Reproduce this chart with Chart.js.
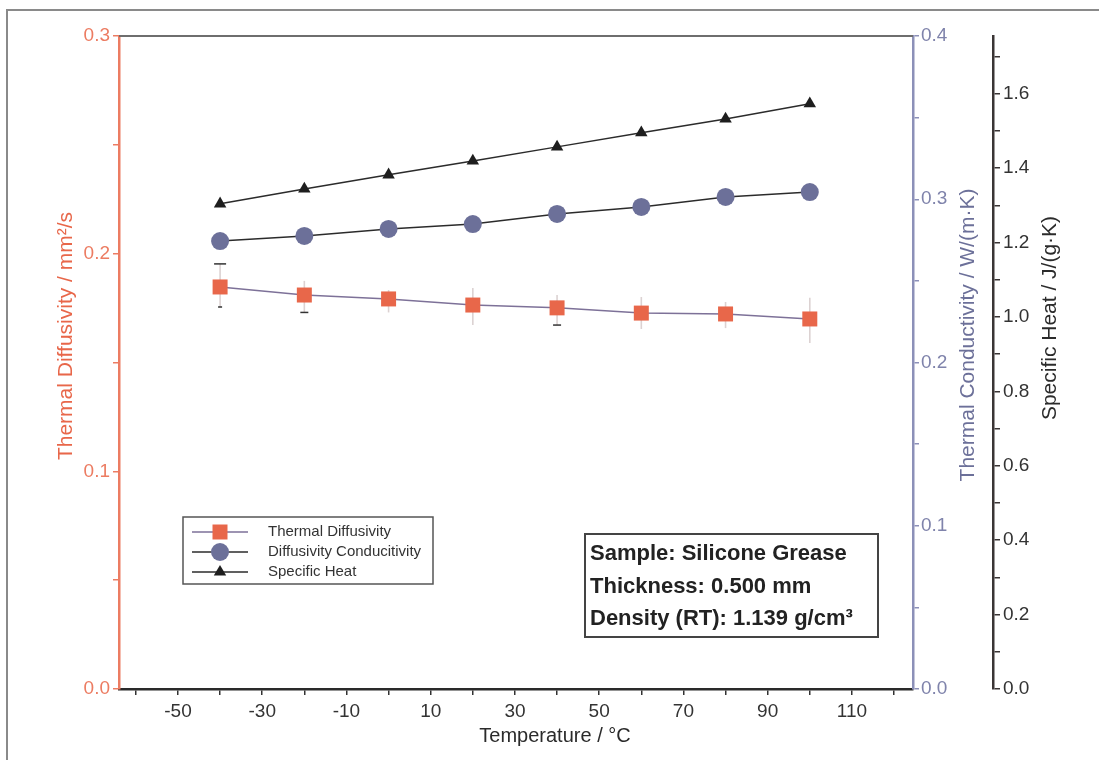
<!DOCTYPE html>
<html>
<head>
<meta charset="utf-8">
<title>Silicone Grease - thermal properties</title>
<script src="https://cdn.jsdelivr.net/npm/chart.js@4"></script>
<style>
  body { margin: 0; background: #fff; }
  canvas { display: block; }
</style>
</head>
<body>
<canvas id="chart" width="1099" height="760"></canvas>
<script>
// data
const temps = [-40, -20, 0, 20, 40, 60, 80, 100];
const diffusivity = [0.1847, 0.1810, 0.1792, 0.1764, 0.1751, 0.1727, 0.1723, 0.1700];
const diffUpper = [0.1953, 0.1875, 0.1833, 0.1842, 0.1810, 0.1801, 0.1778, 0.1797];
const diffLower = [0.1755, 0.1730, 0.1730, 0.1672, 0.1672, 0.1654, 0.1658, 0.1590];
const conductivity = [0.2744, 0.2775, 0.2818, 0.2848, 0.2910, 0.2953, 0.3014, 0.3044];
const specificHeat = [1.304, 1.344, 1.382, 1.419, 1.457, 1.495, 1.532, 1.573];

const seriesNames = ['Thermal Diffusivity', 'Diffusivity Conducitivity', 'Specific Heat'];

// tick marks and the labelled ones
const xTicks = [-60, -50, -40, -30, -20, -10, 0, 10, 20, 30, 40, 50, 60, 70, 80, 90, 100, 110, 120];
const xLabels = ['-50', '-30', '-10', '10', '30', '50', '70', '90', '110'];
const diffTicks = [0, 0.05, 0.1, 0.15, 0.2, 0.25, 0.3];
const diffLabels = ['0.0', '0.1', '0.2', '0.3'];
const condTicks = [0, 0.05, 0.1, 0.15, 0.2, 0.25, 0.3, 0.35, 0.4];
const condLabels = ['0.0', '0.1', '0.2', '0.3', '0.4'];
const cpTicks = [0, 0.1, 0.2, 0.3, 0.4, 0.5, 0.6, 0.7, 0.8, 0.9, 1.0, 1.1, 1.2, 1.3, 1.4, 1.5, 1.6, 1.7];
const cpLabels = ['0.0', '0.2', '0.4', '0.6', '0.8', '1.0', '1.2', '1.4', '1.6'];

const infoLines = ['Sample: Silicone Grease', 'Thickness: 0.500 mm', 'Density (RT): 1.139 g/cm³'];

const ORANGE = '#e8674a';
const ORANGE_AXIS = '#ec7c62';
const BLUE = '#6c7099';
const BLUE_AXIS = '#8c90b8';
const DARK = '#2b2b2b';
const FONT = 'Arial, "Liberation Sans", sans-serif';

function toPoints(ys) {
  return temps.map((t, i) => ({ x: t, y: ys[i] }));
}

function setTicks(values) {
  return scale => { scale.ticks = values.map(v => ({ value: v })); };
}

// only print a label where the tick value matches one of the labels
function labelFrom(labels) {
  return v => {
    const hit = labels.find(l => Math.abs(Number(l) - v) < 1e-9);
    return hit === undefined ? '' : hit;
  };
}

function drawMarker(ctx, style, x, y, color) {
  ctx.save();
  ctx.fillStyle = color;
  ctx.beginPath();
  if (style === 'rect') {
    ctx.rect(x - 7.5, y - 7.5, 15, 15);
  } else if (style === 'circle') {
    ctx.arc(x, y, 9, 0, Math.PI * 2);
  } else {
    ctx.moveTo(x, y - 7);
    ctx.lineTo(x + 6.2, y + 3.6);
    ctx.lineTo(x - 6.2, y + 3.6);
    ctx.closePath();
  }
  ctx.fill();
  ctx.restore();
}

const extras = {
  id: 'extras',
  beforeDatasetsDraw(chart) {
    const { ctx } = chart;
    const xs = chart.scales.x, ys = chart.scales.yDiff;
    const topCaps = [12, 0, 0, 0, 0, 0, 0, 0];
    const bottomCaps = [4, 8, 0, 0, 8, 0, 0, 0];
    ctx.save();
    temps.forEach((t, i) => {
      const x = xs.getPixelForValue(t);
      const y1 = ys.getPixelForValue(diffUpper[i]);
      const y2 = ys.getPixelForValue(diffLower[i]);
      ctx.strokeStyle = '#dcd2d2';
      ctx.lineWidth = 1.6;
      ctx.beginPath();
      ctx.moveTo(x, y1);
      ctx.lineTo(x, y2);
      ctx.stroke();
      ctx.strokeStyle = '#333';
      ctx.lineWidth = 1.5;
      if (topCaps[i]) {
        ctx.beginPath();
        ctx.moveTo(x - topCaps[i] / 2, y1);
        ctx.lineTo(x + topCaps[i] / 2, y1);
        ctx.stroke();
      }
      if (bottomCaps[i]) {
        ctx.beginPath();
        ctx.moveTo(x - bottomCaps[i] / 2, y2);
        ctx.lineTo(x + bottomCaps[i] / 2, y2);
        ctx.stroke();
      }
    });
    ctx.restore();
  },
  afterDraw(chart) {
    const { ctx, chartArea: a } = chart;
    ctx.save();

    // outer frame (top and left edge only are visible)
    ctx.strokeStyle = '#8a8a8a';
    ctx.lineWidth = 2;
    ctx.beginPath();
    ctx.moveTo(7, 760);
    ctx.lineTo(7, 10);
    ctx.lineTo(1099, 10);
    ctx.stroke();

    // top edge of the plot
    ctx.strokeStyle = '#6e6e6e';
    ctx.lineWidth = 2;
    ctx.beginPath();
    ctx.moveTo(a.left, a.top);
    ctx.lineTo(a.right, a.top);
    ctx.stroke();

    // axis titles
    const title = (text, x, y, color, size, rot) => {
      ctx.save();
      ctx.translate(x, y);
      ctx.rotate(rot);
      ctx.fillStyle = color;
      ctx.font = size + 'px ' + FONT;
      ctx.textAlign = 'center';
      ctx.textBaseline = 'middle';
      ctx.fillText(text, 0, 0);
      ctx.restore();
    };
    const s = chart.scales;
    title('Thermal Diffusivity / mm²/s', s.yDiff.left + 66, 336, ORANGE, 21, -Math.PI / 2);
    title('Thermal Conductivity / W/(m·K)', s.yCond.left + 55, 335, BLUE, 21, -Math.PI / 2);
    title('Specific Heat / J/(g·K)', s.yCp.left + 57, 318, DARK, 21, -Math.PI / 2);
    title('Temperature / °C', 555, s.x.top + 47, DARK, 20, 0);

    // legend box
    ctx.fillStyle = '#fff';
    ctx.fillRect(183, 517, 250, 67);
    ctx.strokeStyle = '#555';
    ctx.lineWidth = 1.5;
    ctx.strokeRect(183, 517, 250, 67);
    const legendRows = [
      { line: '#7d7198', style: 'rect', color: ORANGE },
      { line: DARK, style: 'circle', color: BLUE },
      { line: DARK, style: 'triangle', color: '#1e1e1e' }
    ];
    legendRows.forEach((r, i) => {
      const y = 532 + i * 20;
      ctx.strokeStyle = r.line;
      ctx.lineWidth = 1.3;
      ctx.beginPath();
      ctx.moveTo(192, y);
      ctx.lineTo(248, y);
      ctx.stroke();
      drawMarker(ctx, r.style, 220, y, r.color);
      ctx.fillStyle = '#333';
      ctx.font = '15px ' + FONT;
      ctx.textAlign = 'left';
      ctx.textBaseline = 'middle';
      ctx.fillText(seriesNames[i], 268, y);
    });

    // sample info box
    ctx.fillStyle = '#fff';
    ctx.fillRect(585, 534, 293, 103);
    ctx.strokeStyle = '#444';
    ctx.lineWidth = 2;
    ctx.strokeRect(585, 534, 293, 103);
    ctx.fillStyle = '#222';
    ctx.font = 'bold 22px ' + FONT;
    ctx.textAlign = 'left';
    ctx.textBaseline = 'alphabetic';
    infoLines.forEach((t, i) => ctx.fillText(t, 590, 560 + i * 32.5));

    ctx.restore();
  }
};

new Chart(document.getElementById('chart'), {
  type: 'scatter',
  data: {
    datasets: [
      {
        label: seriesNames[0],
        data: toPoints(diffusivity),
        yAxisID: 'yDiff',
        showLine: true,
        borderColor: '#7d7198',
        borderWidth: 1.5,
        pointStyle: 'rect',
        pointRadius: 10.6,
        pointBackgroundColor: ORANGE,
        pointBorderColor: ORANGE,
        pointBorderWidth: 0
      },
      {
        label: seriesNames[1],
        data: toPoints(conductivity),
        yAxisID: 'yCond',
        showLine: true,
        borderColor: DARK,
        borderWidth: 1.5,
        pointStyle: 'circle',
        pointRadius: 9,
        pointBackgroundColor: BLUE,
        pointBorderColor: BLUE,
        pointBorderWidth: 0
      },
      {
        label: seriesNames[2],
        data: toPoints(specificHeat),
        yAxisID: 'yCp',
        showLine: true,
        borderColor: DARK,
        borderWidth: 1.5,
        pointStyle: 'triangle',
        pointRadius: 7.2,
        pointBackgroundColor: '#1e1e1e',
        pointBorderColor: '#1e1e1e',
        pointBorderWidth: 0
      }
    ]
  },
  options: {
    responsive: false,
    animation: false,
    layout: { padding: { top: 36, left: 0, right: 0, bottom: 0 } },
    plugins: {
      legend: { display: false },
      tooltip: { enabled: false }
    },
    scales: {
      x: {
        type: 'linear',
        position: 'bottom',
        min: -64,
        max: 124.5,
        afterBuildTicks: setTicks(xTicks),
        afterFit: s => { s.height = 71; },
        border: { color: '#2a2a2a', width: 2.5 },
        grid: { drawOnChartArea: false, tickLength: 6, color: '#333', lineWidth: 1.5 },
        ticks: {
          autoSkip: false,
          maxRotation: 0,
          padding: 5,
          color: '#333',
          font: { size: 19, family: FONT },
          callback: labelFrom(xLabels)
        }
      },
      yDiff: {
        type: 'linear',
        position: 'left',
        min: 0,
        max: 0.3,
        afterBuildTicks: setTicks(diffTicks),
        afterFit: s => { s.width = 119; },
        border: { color: ORANGE_AXIS, width: 2.5 },
        grid: { drawOnChartArea: false, tickLength: 6, color: ORANGE_AXIS, lineWidth: 1.5 },
        ticks: {
          autoSkip: false,
          padding: 3,
          color: ORANGE_AXIS,
          font: { size: 19, family: FONT },
          callback: labelFrom(diffLabels)
        }
      },
      yCond: {
        type: 'linear',
        position: 'right',
        weight: 0,
        min: 0,
        max: 0.4,
        afterBuildTicks: setTicks(condTicks),
        afterFit: s => { s.width = 80; },
        border: { color: BLUE_AXIS, width: 2.5 },
        grid: { drawOnChartArea: false, tickLength: 6, color: BLUE_AXIS, lineWidth: 1.5 },
        ticks: {
          autoSkip: false,
          padding: 2,
          color: '#7f83ab',
          font: { size: 19, family: FONT },
          callback: labelFrom(condLabels)
        }
      },
      yCp: {
        type: 'linear',
        position: 'right',
        weight: 1,
        min: 0,
        max: 1.755,
        afterBuildTicks: setTicks(cpTicks),
        afterFit: s => { s.width = 106; },
        border: { color: '#3a3535', width: 2.5 },
        grid: { drawOnChartArea: false, tickLength: 7, color: '#3a3535', lineWidth: 1.5 },
        ticks: {
          autoSkip: false,
          padding: 3,
          color: '#333',
          font: { size: 19, family: FONT },
          callback: labelFrom(cpLabels)
        }
      }
    }
  },
  plugins: [extras]
});
</script>
</body>
</html>
